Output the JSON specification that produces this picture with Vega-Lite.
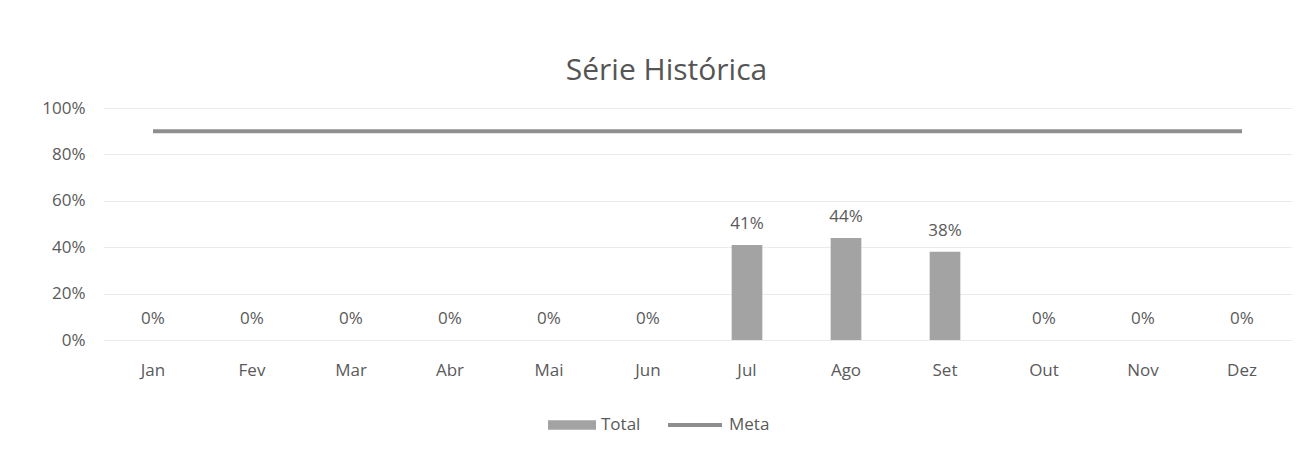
{
  "$schema": "https://vega.github.io/schema/vega-lite/v6.json",
  "width": 1189,
  "height": 232,
  "autosize": {"type": "none"},
  "padding": {"left": 103, "top": 108, "right": 10, "bottom": 122},
  "background": "white",
  "config": {"view": {"stroke": null}},
  "title": {
    "text": "Série Histórica",
    "fontSize": 30,
    "font": "Open Sans",
    "fontWeight": "normal",
    "color": "#555555",
    "anchor": "middle",
    "dx": -31,
    "offset": 13
  },
  "data": {
    "values": [
      {"mes": "Jan", "Total": 0, "Meta": 0.9},
      {"mes": "Fev", "Total": 0, "Meta": 0.9},
      {"mes": "Mar", "Total": 0, "Meta": 0.9},
      {"mes": "Abr", "Total": 0, "Meta": 0.9},
      {"mes": "Mai", "Total": 0, "Meta": 0.9},
      {"mes": "Jun", "Total": 0, "Meta": 0.9},
      {"mes": "Jul", "Total": 0.41, "Meta": 0.9},
      {"mes": "Ago", "Total": 0.44, "Meta": 0.9},
      {"mes": "Set", "Total": 0.38, "Meta": 0.9},
      {"mes": "Out", "Total": 0, "Meta": 0.9},
      {"mes": "Nov", "Total": 0, "Meta": 0.9},
      {"mes": "Dez", "Total": 0, "Meta": 0.9}
    ]
  },
  "encoding": {
    "x": {
      "field": "mes",
      "type": "nominal",
      "sort": null,
      "title": null,
      "scale": {"paddingInner": 0.69, "paddingOuter": 0.35},
      "axis": {
        "labelAngle": 0,
        "domain": false,
        "ticks": false,
        "labelPadding": 22,
        "labelFontSize": 17,
        "labelFont": "Open Sans",
        "labelColor": "#5a5a5a"
      }
    }
  },
  "layer": [
    {
      "mark": {"type": "bar", "color": "#a3a3a3"},
      "encoding": {
        "y": {
          "field": "Total",
          "type": "quantitative",
          "title": null,
          "scale": {"domain": [0, 1]},
          "axis": {
            "values": [0, 0.2, 0.4, 0.6, 0.8, 1],
            "format": ".0%",
            "domain": false,
            "ticks": false,
            "labelPadding": 18,
            "labelFontSize": 17,
            "labelFont": "Open Sans",
            "labelColor": "#5a5a5a",
            "gridColor": "#ebebeb",
            "gridWidth": 1
          }
        },
        "fill": {
          "datum": "Total",
          "type": "nominal",
          "scale": {"range": ["#a3a3a3"]},
          "legend": {
            "title": null,
            "orient": "none",
            "legendX": 445,
            "legendY": 293,
            "symbolType": "M-1,-0.2H1V0.2H-1Z",
            "symbolSize": 2304,
            "symbolStrokeWidth": 0,
            "labelFontSize": 17,
            "labelFont": "Open Sans",
            "labelColor": "#5a5a5a",
            "labelOffset": 5
          }
        }
      }
    },
    {
      "mark": {"type": "text", "baseline": "bottom", "dy": -12, "fontSize": 17, "font": "Open Sans", "color": "#5a5a5a"},
      "encoding": {
        "y": {"field": "Total", "type": "quantitative"},
        "text": {"field": "Total", "type": "quantitative", "format": ".0%"}
      }
    },
    {
      "mark": {"type": "line", "strokeWidth": 4},
      "encoding": {
        "y": {"field": "Meta", "type": "quantitative"},
        "stroke": {
          "datum": "Meta",
          "type": "nominal",
          "scale": {"range": ["#8e8e8e"]},
          "legend": {
            "title": null,
            "orient": "none",
            "legendX": 563,
            "legendY": 288,
            "symbolType": "stroke",
            "symbolStrokeWidth": 4,
            "symbolSize": 2916,
            "labelFontSize": 17,
            "labelFont": "Open Sans",
            "labelColor": "#5a5a5a",
            "labelOffset": 5
          }
        }
      }
    }
  ]
}
